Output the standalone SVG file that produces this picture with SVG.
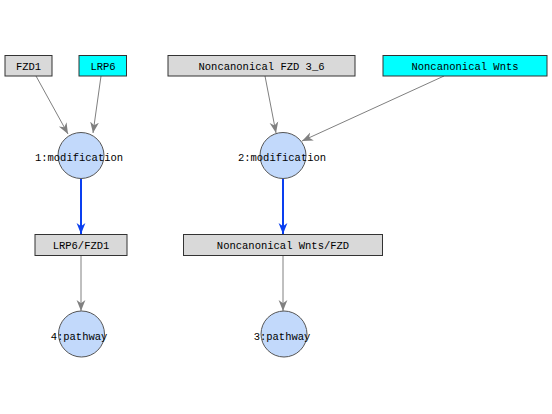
<svg xmlns="http://www.w3.org/2000/svg" width="552" height="414" viewBox="0 0 552 414">
<style>
.box{fill:#d9d9d9;stroke:#333;stroke-width:1}
.cyan{fill:#00ffff;stroke:#333;stroke-width:1}
.proc{fill:#c2d9fb;stroke:#555;stroke-width:1}
text{font-family:"Liberation Mono","DejaVu Sans Mono",monospace;font-size:10.5px;fill:#000;text-anchor:middle}
.edge{stroke:#808080;stroke-width:1;fill:none;marker-end:url(#ag)}
.prod{stroke:#0a3ff0;stroke-width:2;fill:none;marker-end:url(#ab)}
</style>
<defs>
<marker id="ag" viewBox="0 0 10 10" refX="10" refY="5" markerWidth="11" markerHeight="11" markerUnits="userSpaceOnUse" orient="auto">
<path d="M0,1 L10,5 L0,9 L3,5 Z" fill="#808080"/>
</marker>
<marker id="ab" viewBox="0 0 10 10" refX="10" refY="5" markerWidth="11" markerHeight="11" markerUnits="userSpaceOnUse" orient="auto">
<path d="M0,1 L10,5 L0,9 L3,5 Z" fill="#0a3ff0"/>
</marker>
</defs>
<rect width="552" height="414" fill="#fff"/>
<g id="edges">
<line class="edge" x1="36" y1="76" x2="68" y2="134"/>
<line class="edge" x1="101" y1="76" x2="93" y2="133"/>
<line class="edge" x1="265" y1="76" x2="276" y2="133"/>
<line class="edge" x1="444" y1="76" x2="302" y2="141"/>
<line class="prod" x1="81" y1="179" x2="81" y2="234"/>
<line class="prod" x1="283" y1="179" x2="283" y2="234"/>
<line class="edge" x1="81" y1="256" x2="81" y2="311"/>
<line class="edge" x1="283" y1="256" x2="283" y2="311"/>
</g>
<g id="FZD1"><rect class="box" x="5" y="55.5" width="47" height="20.5"/><text x="28.5" y="70">FZD1</text></g>
<g id="LRP6"><rect class="cyan" x="79" y="55.5" width="47.5" height="20.5"/><text x="103" y="70">LRP6</text></g>
<g id="FZD3_6"><rect class="box" x="168" y="55.5" width="187" height="20.5"/><text x="261.5" y="70">Noncanonical FZD 3_6</text></g>
<g id="Wnts"><rect class="cyan" x="383" y="55.5" width="164" height="20.5"/><text x="465" y="70">Noncanonical Wnts</text></g>
<g id="mod1"><circle class="proc" cx="81" cy="155.5" r="23"/><text x="79" y="161">1:modification</text></g>
<g id="mod2"><circle class="proc" cx="283" cy="155.5" r="23"/><text x="282" y="161">2:modification</text></g>
<g id="LRP6_FZD1"><rect class="box" x="35" y="234.5" width="92" height="21"/><text x="81" y="249">LRP6/FZD1</text></g>
<g id="Wnts_FZD"><rect class="box" x="183.5" y="234.5" width="199" height="21"/><text x="283" y="249">Noncanonical Wnts/FZD</text></g>
<g id="path4"><circle class="proc" cx="81.5" cy="334" r="23"/><text x="79" y="340">4:pathway</text></g>
<g id="path3"><circle class="proc" cx="284" cy="334" r="23"/><text x="282" y="340">3:pathway</text></g>
</svg>
